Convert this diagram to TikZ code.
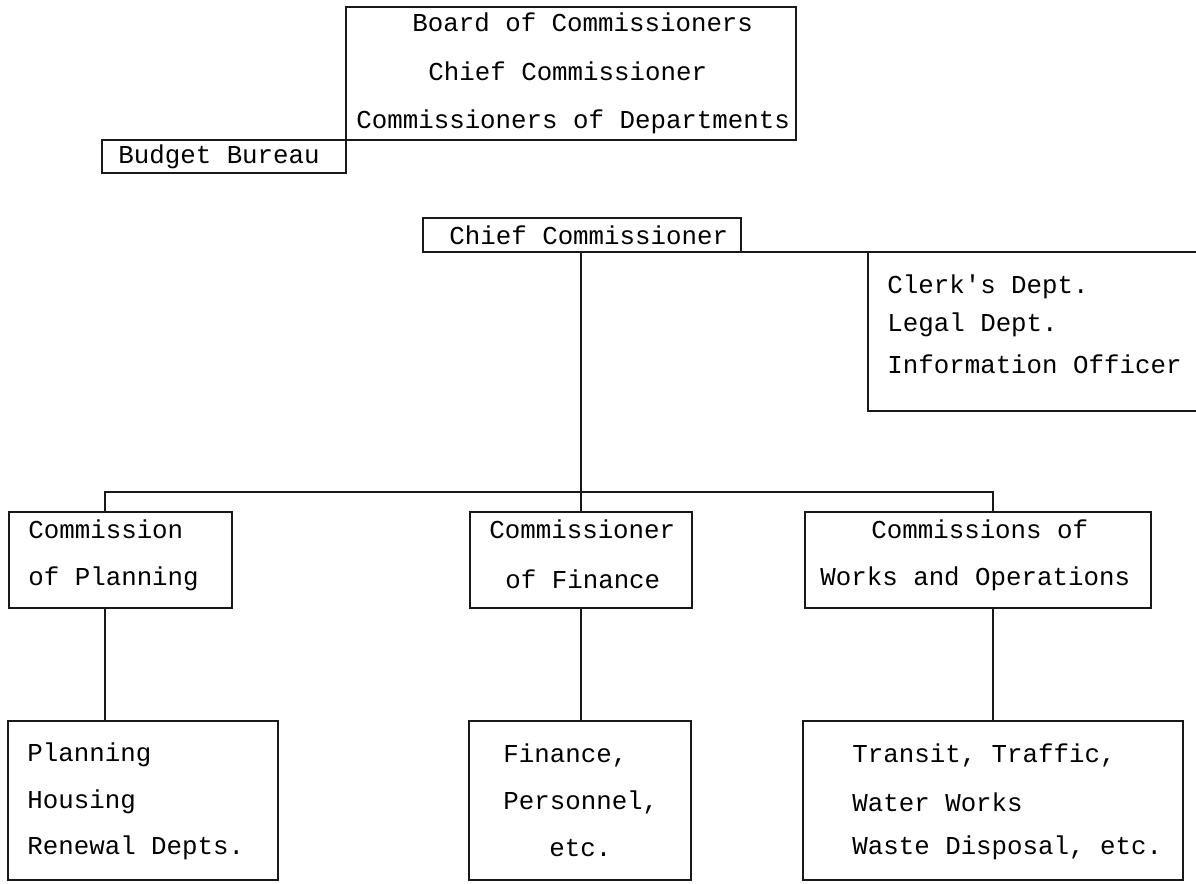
\documentclass[tikz,border=0pt]{standalone}
\usepackage{fontspec}
\setmonofont{Liberation Mono}
\usetikzlibrary{positioning,fit}

\tikzset{
  box/.style={draw=black!90, line width=1.2pt, inner sep=0pt, outer sep=0pt},
  txt/.style={anchor=west, inner sep=0pt, text=black,
    font=\ttfamily\fontsize{12.9}{16}\selectfont},
  link/.style={draw=black!90, line width=1.2pt},
}

\begin{document}
\begin{tikzpicture}[x=0.5pt,y=-0.5pt]
    \useasboundingbox (0,0) rectangle (1196,884);

    % Board and budget (top)
    \node[box, fit={(346,7) (796,140)}] (board) {};
    \node[box, fit={(102,140) (346,173)}] (budget) {};
    \node[txt] (boardA) at (412,22) {Board of Commissioners};
    \node[txt] (boardB) at (428,71) {Chief Commissioner};
    \node[txt] (boardC) at (356,122) {Commissioners of Departments};
    \node[txt] (budgetT) at (118,157) {Budget Bureau};

    % Chief commissioner and staff departments
    \node[box, fit={(423,218) (741,252)}] (chief) {};
    \node[txt] (chiefT) at (449,235) {Chief Commissioner};
    \node[box, fit={(868,252) (1230,411)}] (staff) {};
    \node[txt] (staffA) at (887,287) {Clerk's Dept.};
    \node[txt] (staffB) at (887,325) {Legal Dept.};
    \node[txt] (staffC) at (887,364) {Information Officer};

    % Commissions (middle row)
    \node[box, fit={(9,512) (232,608)}] (planCom) {};
    \node[box, fit={(470,512) (692,608)}] (finCom) {};
    \node[box, fit={(805,512) (1151,608)}] (worksCom) {};
    \node[txt] (planComA) at (28,529) {Commission};
    \node[txt] (planComB) at (28,579) {of Planning};
    \node[txt] (finComA) at (489,529) {Commissioner};
    \node[txt] (finComB) at (505,579) {of Finance};
    \node[txt] (worksComA) at (871,529) {Commissions of};
    \node[txt] (worksComB) at (820,579) {Works and Operations};

    % Departments (bottom row)
    \node[box, fit={(8,721) (278,880)}] (planDep) {};
    \node[box, fit={(469,721) (691,880)}] (finDep) {};
    \node[box, fit={(803,721) (1183,880)}] (worksDep) {};
    \node[txt] (planDepA) at (27,755) {Planning};
    \node[txt] (planDepB) at (27,802) {Housing};
    \node[txt] (planDepC) at (27,848) {Renewal Depts.};
    \node[txt] (finDepA) at (503,755) {Finance,};
    \node[txt] (finDepB) at (503,802) {Personnel,};
    \node[txt] (finDepC) at (549,848) {etc.};
    \node[txt] (worksDepA) at (852,755) {Transit, Traffic,};
    \node[txt] (worksDepB) at (852,802) {Water Works};
    \node[txt] (worksDepC) at (852,848) {Waste Disposal, etc.};

    % connectors
    \coordinate (busL) at (105,492);
    \coordinate (busR) at (993,492);
    \draw[link] (chief.south east) -- (staff.north west);
    \draw[link] (chief.south -| finCom.north) -- (finCom.north);
    \draw[link] (planCom.north -| busL) -- (busL) -- (busR) -- (worksCom.north -| busR);
    \draw[link] (planCom.south -| busL) -- (planDep.north -| busL);
    \draw[link] (finCom.south) -- (finDep.north -| finCom.south);
    \draw[link] (worksCom.south -| busR) -- (worksDep.north -| busR);
\end{tikzpicture}
\end{document}
